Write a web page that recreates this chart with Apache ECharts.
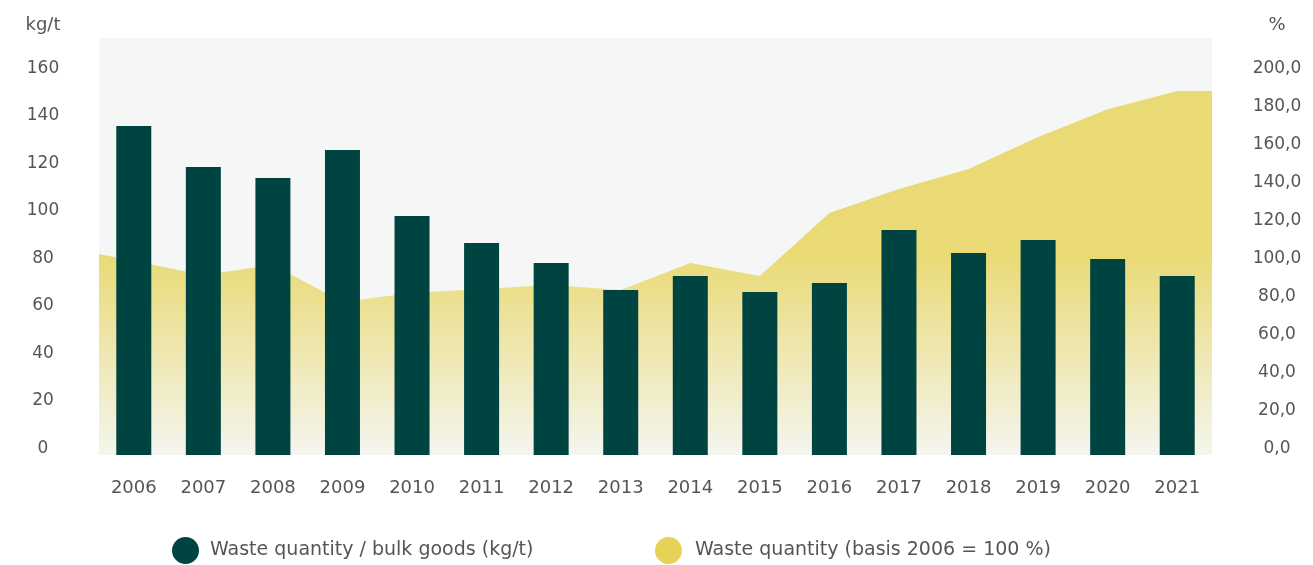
<!DOCTYPE html>
<html>
<head>
<meta charset="utf-8">
<script src="https://cdn.jsdelivr.net/npm/echarts@6/dist/echarts.min.js"></script>
<style>
html,body{margin:0;padding:0;background:#fff;}
#c{width:1313px;height:565px;}
</style>
</head>
<body>
<div id="c"></div>
<script>
const years = ['2006','2007','2008','2009','2010','2011','2012','2013','2014','2015','2016','2017','2018','2019','2020','2021'];
const wastePerTon = [138.5, 121.3, 116.6, 128.4, 100.6, 89.3, 80.8, 69.5, 75.4, 68.6, 72.4, 94.7, 85.1, 90.5, 82.5, 75.4];
const wasteIndex = [102.1, 94.7, 100.0, 80.7, 85.3, 87.4, 89.5, 86.8, 101.0, 94.2, 127.4, 140.0, 150.5, 167.4, 182.0, 191.6];
const indexEdges = [105.8, 191.6];
const leftTickMax = 160;
const rightTickMax = 200;
const seriesNames = ['Waste quantity / bulk goods (kg/t)', 'Waste quantity (basis 2006 = 100 %)'];

const FONT = '"DejaVu Sans", Lato, sans-serif';
const TXT = '#555555';
const plotTop = 38, tickTop = 75, plotBottom = 455;
const stretch = (plotBottom - plotTop) / (plotBottom - tickTop);

const areaData = [[-0.5, indexEdges[0]]]
  .concat(wasteIndex.map((v, i) => [i, v]))
  .concat([[years.length - 0.5, indexEdges[1]]]);

const chart = echarts.init(document.getElementById('c'), null, {renderer: 'canvas'});
chart.setOption({
  animation: false,
  backgroundColor: '#ffffff',
  textStyle: {fontFamily: FONT, color: TXT},
  grid: {left: 99, right: 101, top: plotTop, bottom: 565 - plotBottom, show: true, backgroundColor: '#f5f7f6', borderWidth: 0},
  graphic: [
    {type: 'text', x: 43, y: 25, style: {text: 'kg/t', fontFamily: FONT, fontSize: 18, fill: TXT, align: 'center', verticalAlign: 'middle'}},
    {type: 'text', x: 1277, y: 25, style: {text: '%', fontFamily: FONT, fontSize: 18, fill: TXT, align: 'center', verticalAlign: 'middle'}}
  ],
  legend: [
    {data: [seriesNames[0]], left: 172, top: 537, padding: 0, itemWidth: 27, itemHeight: 27, icon: 'circle',
     textStyle: {fontFamily: FONT, fontSize: 19, color: TXT, padding: [0, 0, 0, 6]}},
    {data: [seriesNames[1]], left: 655, top: 537, padding: 0, itemWidth: 27, itemHeight: 27, icon: 'circle',
     textStyle: {fontFamily: FONT, fontSize: 19, color: TXT, padding: [0, 0, 0, 8]}}
  ],
  xAxis: [
    {type: 'category', data: years, boundaryGap: true,
     axisLine: {show: false}, axisTick: {show: false}, splitLine: {show: false},
     axisLabel: {fontFamily: FONT, fontSize: 18, color: TXT, margin: 24}},
    {type: 'value', min: -0.5, max: years.length - 0.5, show: false}
  ],
  yAxis: [
    {type: 'value', min: 0, max: leftTickMax * stretch, interval: 20, position: 'left',
     axisLine: {show: false}, axisTick: {show: false}, splitLine: {show: false},
     axisLabel: {fontFamily: FONT, fontSize: 17, color: TXT, align: 'center', margin: 56,
                 verticalAlign: 'bottom', lineHeight: 13,
                 showMaxLabel: false, formatter: v => (v > leftTickMax ? '' : String(v))}},
    {type: 'value', min: 0, max: rightTickMax * stretch, interval: 20, position: 'right',
     axisLine: {show: false}, axisTick: {show: false}, splitLine: {show: false},
     axisLabel: {fontFamily: FONT, fontSize: 17, color: TXT, align: 'center', margin: 65,
                 verticalAlign: 'bottom', lineHeight: 13,
                 showMaxLabel: false, formatter: v => (v > rightTickMax ? '' : v.toFixed(1).replace('.', ','))}}
  ],
  series: [
    {name: seriesNames[1], type: 'line', xAxisIndex: 1, yAxisIndex: 1, data: areaData,
     symbol: 'none', lineStyle: {width: 0}, z: 1,
     itemStyle: {color: '#e6d257'},
     areaStyle: {opacity: 1, color: new echarts.graphic.LinearGradient(0, 0, 0, 1, [
       {offset: 0, color: 'rgba(233,218,118,1)'},
       {offset: 0.45, color: 'rgba(233,218,118,1)'},
       {offset: 1, color: 'rgba(233,218,118,0.06)'}
     ])}},
    {name: seriesNames[0], type: 'bar', xAxisIndex: 0, yAxisIndex: 0, data: wastePerTon,
     barWidth: 35, z: 3, itemStyle: {color: '#004442'}}
  ]
});
</script>
</body>
</html>
